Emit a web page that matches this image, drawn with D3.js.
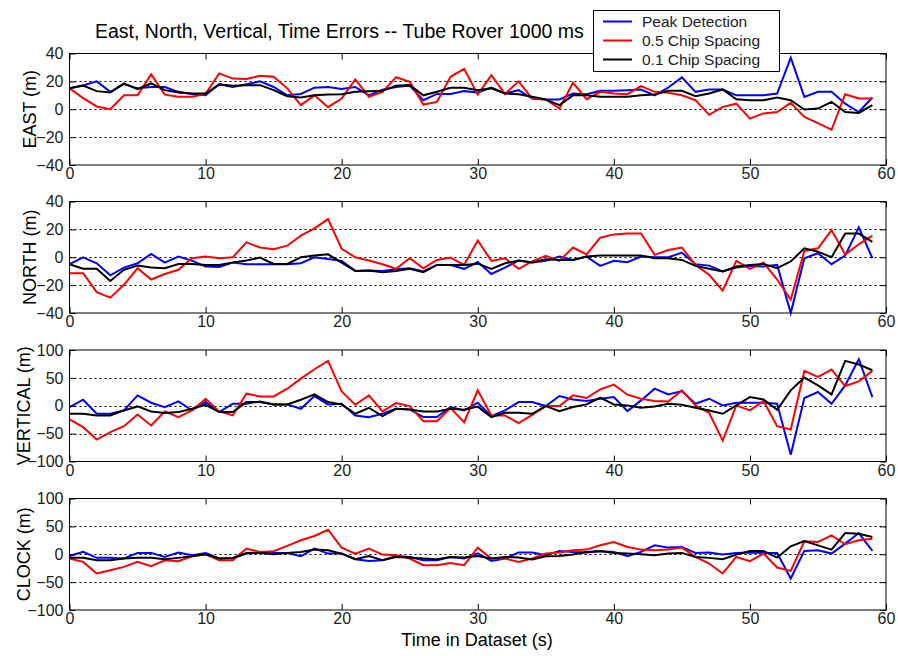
<!DOCTYPE html>
<html>
<head>
<meta charset="utf-8">
<script src="https://cdn.jsdelivr.net/npm/d3@7"></script>
<style>
  html, body { margin: 0; padding: 0; background: #fff; }
  svg { display: block; font-family: "Liberation Sans", Arial, sans-serif; }
</style>
</head>
<body>
<svg id="chart" width="898" height="656"></svg>
<script>
// Time axis (seconds into the dataset)
const seconds = d3.range(0, 60);
const xTicks = [0, 10, 20, 30, 40, 50, 60];

const seriesNames = ["Peak Detection", "0.5 Chip Spacing", "0.1 Chip Spacing"];
const seriesColors = ["#0000ff", "#ff0000", "#000000"];

const panelLabels = ["EAST (m)", "NORTH (m)", "VERTICAL (m)", "CLOCK (m)"];
const panelDomains = [[-40, 40], [-40, 40], [-100, 100], [-100, 100]];
const yTicksSmall = [-40, -20, 0, 20, 40];
const yTicksLarge = [-100, -50, 0, 50, 100];

// EAST error (m)
const eastPeak = [15,17,20,12.5,18,15,16,16,12.5,11,10,18,16,18,20,16,10,11,15.5,16,14.5,16,10,14,16,17,6.5,11,11,13,12,15.6,11.3,13.7,7.7,7,7,11.3,10.8,13.2,13.2,13.7,14.2,10,15.6,22.9,12.5,14.2,14.2,10,10,10,11.3,37,8.9,12.5,12.5,4,-2,8.4];
const eastHalf = [15,8,2,0,10,10,25,10.5,9,9,11,25.7,22,21.7,24,23.3,15,3,10,1.5,7.7,21.4,9,12.5,23,19.7,3.4,5.3,23.3,29,10.5,24.5,11,20,7.7,7,0.5,19,7.2,12.5,11.3,10.8,16.6,12.5,11.8,10,6.5,-4,1.7,4,-6.7,-3,-2,4.6,-5.5,-10,-14.7,10.8,7.7,7.7];
const eastTenth = [15,17,13,12,18.5,14.4,18.5,13.7,12,11.3,11.3,17.8,16.8,17.3,17.3,13.7,9.4,8.4,10,10.6,10.8,12.5,13,13.2,16.8,17.3,10,12.5,15.4,15.4,13.7,15,11.3,10.8,9,7,3,10,10,9,9,9,10,10.6,13.2,13.2,9.4,11.3,14.2,7.2,6.5,6.5,8.4,6.5,-0.2,0.5,5.3,-2,-2.6,3];

// NORTH error (m)
const northPeak = [-5,0,-4.3,-13,-7.4,-4.3,2.4,-3.8,0.5,-2.4,-6.7,-7,-3.8,-5,-5,-5,-5,-4.3,0,-1.2,-2.6,-9.8,-9.5,-9.8,-8.6,-7.9,-10.2,-5.5,-5.5,-8.3,-3.4,-12,-7.4,-2.4,-3.8,-2.6,0.5,-1.9,0.5,-6.2,-2.6,-3.6,0.5,0,0,3.3,-5,-6,-10.2,-7.4,-6.2,-6.7,-5.5,-40,-0.7,2.9,-5,1.2,21.4,-0.7];
const northHalf = [-11.4,-11.4,-25,-29,-19.8,-7.9,-16,-12,-9,-0.7,0.5,-0.7,0,10.7,7,5.7,8.3,15.5,20.7,27.4,6,0,-2.4,-5,-8.3,-0.7,-7.9,-1.9,-0.2,-5.5,12,-2.6,-0.7,-8.3,-3,1,-2.6,7,2,14,16.4,17,17,1.7,5.2,7,-5.5,-12.6,-24,-2.6,-8.3,-3.8,-16,-30.5,4.5,6.4,19.5,2,9.3,15.5];
const northTenth = [-5,-8.3,-8.3,-17,-9,-6,-7.4,-7.9,-4.8,-4.8,-5.5,-5.5,-3.8,-2.4,-0.2,-4.8,-4.8,0,1.2,2.1,-3.8,-9.8,-9.5,-10.7,-9.8,-8.3,-10.7,-5.5,-5.5,-5.5,-4.6,-8.3,-4.3,-2.4,-3.8,-1.4,-1.9,-1.9,0.5,1.2,1.2,1.2,1.2,-0.7,-0.7,-1.9,-6.2,-8.3,-10.2,-6.7,-5.5,-4.8,-7.9,-3,6.4,4,0,17,17,11];

// VERTICAL error (m)
const vertPeak = [-2.4,10.8,-14.4,-14.4,-8.4,18.6,5.4,-2.4,7.8,-8.4,6.6,-11.4,3.6,3.6,7.8,2.4,2.4,-5.4,17.4,2.4,3.6,-17.4,-20.4,-14.4,-5.4,-6.6,-20.4,-20.4,-2.4,-8.4,5.4,-18.6,-8.4,6.6,6.6,-0.6,17.4,11.4,8.4,12.6,15.6,-9.6,9.6,30.6,20.4,26.4,3.6,12.6,0.6,5.4,5.4,5.4,3.6,-87.7,13.8,24.6,3.6,36.6,83.5,15.6];
const vertHalf = [-24.6,-38.4,-60.7,-47.4,-36.6,-15.6,-35.4,-10.2,-20.4,-8.4,12.6,-10.2,-17.4,21.6,16.8,16.8,30.6,48.6,65.5,80.5,25.8,1.8,18.6,-10.2,4.8,-0.6,-27.6,-27.6,-4.2,-29.4,27.6,-17.4,-17.4,-31.2,-16.2,-0.6,-0.6,18.6,13.8,29.4,37.8,19.8,12.6,8.4,7.8,27.6,0.6,-12.6,-62.5,0.6,-8.4,8.4,-36.6,-42.6,62.5,51.7,64.9,35.4,43.8,62.5];
const vertTenth = [-14.4,-14.4,-17.4,-17.4,-8.4,-1.2,-10.2,-13.2,-11.4,-5.4,1.8,-11.4,-11.4,6.6,6.6,2.4,2.4,10.8,20.4,6.6,2.4,-14.4,-3.6,-18.6,-5.4,-6.6,-10.2,-10.2,-5.4,-7.2,-1.5,-20.4,-12.6,-12.6,-14.4,-0.6,-9.6,-2.4,2.4,14.4,2.4,0.6,-3.6,-1.2,3.6,1.8,-3.6,-8.4,-14.4,0.6,15.6,11.4,-7.2,27.6,50.5,36.6,20.4,80.5,73.9,63.7];

// CLOCK error (m)
const clockPeak = [-3,4.2,-6.5,-6.5,-7.7,2.4,2.4,-4.8,3,-1.8,2.4,-7.7,-7.7,1.2,2.4,2.4,2.4,-3.6,10,1.2,1.2,-8.9,-11.9,-10.7,-3,-4.8,-10.7,-10.7,-4.8,-7.7,1.8,-11.9,-7.7,3,3,-1.8,6,4.2,3,5.4,4.2,-3.6,4.2,16,11.9,13.1,2.4,3,-0.6,2.4,3,2.4,2.4,-43.5,6,7.1,1.2,19,38,6];
const clockHalf = [-7.7,-13.7,-34.5,-28.6,-22.6,-13.7,-21.4,-10.7,-12.5,-3.6,0,-10.7,-10.7,10,4.2,5.4,14.9,25,32.7,44,11.9,1.2,10,-0.6,-1.8,-7.7,-19.6,-19.6,-15.5,-19.6,11.9,-7.7,-7.7,-13.7,-7.7,1.2,3,7.1,8.3,16,22,13.1,8.3,7.1,8.3,11.9,-4.8,-16.7,-34.5,-4.8,-12.5,1.2,-23.8,-29.8,23.2,22,33.9,17.9,25,28];
const clockTenth = [-6.5,-6.5,-10.7,-10.7,-7.7,-6.5,-6.5,-8.9,-6.5,-3.6,0,-7.7,-6.5,2.4,2.4,0,2.4,4.2,8.3,7.1,1.2,-8.9,-3,-10.7,-4.8,-6,-7.7,-8.9,-4.8,-6,-3,-7.7,-4.8,-6,-9.5,-3.6,-3,-0.6,4.2,6,2.4,1.2,0,-1.8,1.2,2.4,-4.8,-6.5,-8.9,-0.6,6,6,-6,14.3,23.8,16,8.3,38,36.9,31];

const panelSeries = [
  [eastPeak, eastHalf, eastTenth],
  [northPeak, northHalf, northTenth],
  [vertPeak, vertHalf, vertTenth],
  [clockPeak, clockHalf, clockTenth]
];
const panelTicks = [yTicksSmall, yTicksSmall, yTicksLarge, yTicksLarge];

// Layout
const left = 69.5, right = 886;
const panelTops = [53.5, 201.5, 350, 498.5];
const panelHeight = 111.5;
const tickLen = 6;
const labelX = [36, 36, 30, 30];   // wider tick labels push the y label left

const svg = d3.select("#chart");
const x = d3.scaleLinear().domain([0, 60]).range([left, right]);

panelLabels.forEach((label, p) => {
  const top = panelTops[p], bottom = top + panelHeight;
  const y = d3.scaleLinear().domain(panelDomains[p]).range([bottom, top]);
  const g = svg.append("g").attr("class", "panel");

  // dashed horizontal grid at interior y ticks
  g.selectAll("line.grid")
    .data(panelTicks[p].filter(t => t !== panelDomains[p][0] && t !== panelDomains[p][1]))
    .join("line")
    .attr("class", "grid")
    .attr("x1", left).attr("x2", right)
    .attr("y1", d => Math.round(y(d)) + 0.5).attr("y2", d => Math.round(y(d)) + 0.5)
    .attr("stroke", "#000").attr("stroke-width", 1)
    .attr("stroke-dasharray", "2,3");

  // data lines
  const line = d3.line().x((d, i) => x(seconds[i])).y(d => y(d));
  panelSeries[p].forEach((values, s) => {
    g.append("path")
      .datum(values)
      .attr("d", line)
      .attr("fill", "none")
      .attr("stroke", seriesColors[s])
      .attr("stroke-width", 2)
      .attr("stroke-linejoin", "miter");
  });

  // frame
  g.append("rect")
    .attr("x", left).attr("y", top)
    .attr("width", right - left).attr("height", panelHeight)
    .attr("fill", "none").attr("stroke", "#000").attr("stroke-width", 1);

  // bottom axis: inward ticks and labels
  const xAxis = d3.axisBottom(x).tickValues(xTicks).tickSizeInner(-tickLen).tickSizeOuter(0)
    .tickPadding(3).tickFormat(d3.format("d"));
  const ax = g.append("g").attr("transform", `translate(0,${bottom})`).call(xAxis);
  ax.select(".domain").remove();
  ax.selectAll("text").attr("font-size", 16).attr("fill", "#222")
    .attr("font-family", "'Liberation Sans', Arial, sans-serif");

  // top inward ticks
  const axTop = g.append("g").attr("transform", `translate(0,${top})`)
    .call(d3.axisTop(x).tickValues(xTicks).tickSizeInner(-tickLen).tickSizeOuter(0).tickFormat(""));
  axTop.select(".domain").remove();

  // left axis with labels
  const yAxis = d3.axisLeft(y).tickValues(panelTicks[p]).tickSizeInner(-tickLen).tickSizeOuter(0)
    .tickFormat(d3.format("d"));
  const ay = g.append("g").attr("transform", `translate(${left},0)`).call(yAxis);
  ay.select(".domain").remove();
  ay.selectAll("text").attr("font-size", 16).attr("fill", "#222").attr("x", -6)
    .attr("font-family", "'Liberation Sans', Arial, sans-serif");

  // right inward ticks
  const ayR = g.append("g").attr("transform", `translate(${right},0)`)
    .call(d3.axisRight(y).tickValues(panelTicks[p]).tickSizeInner(-tickLen).tickSizeOuter(0).tickFormat(""));
  ayR.select(".domain").remove();

  // y label
  svg.append("text")
    .attr("transform", `translate(${labelX[p]},${(top + bottom) / 2}) rotate(-90)`)
    .attr("text-anchor", "middle")
    .attr("font-size", 18)
    .attr("fill", "#000")
    .text(label);
});

// title
svg.append("text")
  .attr("x", 95).attr("y", 38)
  .attr("font-size", 19.5)
  .attr("fill", "#000")
  .text("East, North, Vertical, Time Errors -- Tube Rover 1000 ms");

// x axis title
svg.append("text")
  .attr("x", 477).attr("y", 646)
  .attr("text-anchor", "middle")
  .attr("font-size", 18)
  .attr("fill", "#000")
  .text("Time in Dataset (s)");

// legend
const legend = svg.append("g").attr("class", "legend");
legend.append("rect")
  .attr("x", 593.5).attr("y", 10.5).attr("width", 186).attr("height", 61)
  .attr("fill", "#fff").attr("stroke", "#000").attr("stroke-width", 1);
const rowY = [21.5, 40.5, 59.5];
seriesNames.forEach((name, i) => {
  legend.append("line")
    .attr("x1", 603).attr("x2", 632)
    .attr("y1", rowY[i]).attr("y2", rowY[i])
    .attr("stroke", seriesColors[i]).attr("stroke-width", 2);
  legend.append("text")
    .attr("x", 642).attr("y", rowY[i] + 5.5)
    .attr("font-size", 15.5)
    .attr("fill", "#222")
    .text(name);
});
</script>
</body>
</html>
